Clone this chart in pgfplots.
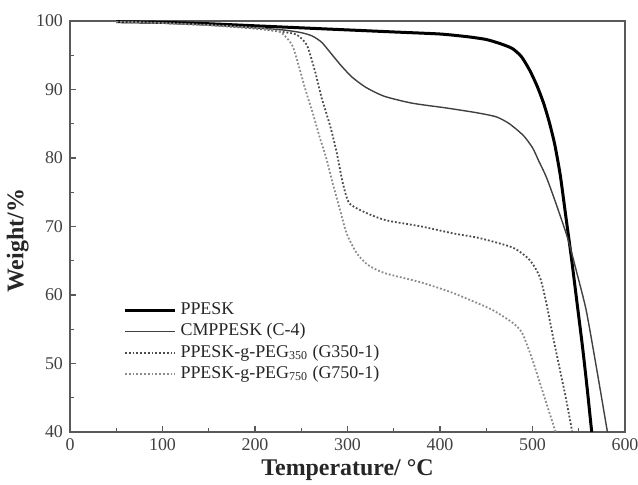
\documentclass[border=0pt]{standalone}
\usepackage{fontspec}
\setmainfont{Liberation Serif}
\usepackage{pgfplots}
\pgfplotsset{compat=1.18}
\begin{document}
\begin{tikzpicture}
\begin{axis}[name=ax, scale only axis, width=277.5bp, height=205.5bp,
  xmin=0, xmax=600, ymin=40, ymax=100,
  xtick={0,100,...,600}, ytick={40,50,...,100},
  minor xtick={50,150,...,550}, minor ytick={45,55,...,95},
  tick align=inside, xtick pos=left, ytick pos=left,
  major tick length=3bp, minor tick length=1.8bp,
  axis line style={black!65, line width=0.7bp},
  every tick/.style={black!65, line width=0.6bp},
  /pgf/number format/assume math mode=true,
  ticklabel style={font=\fontsize{9}{10}\selectfont, text=black!75},
  xlabel={\bfseries Temperature/ °C},
  ylabel={\bfseries Weight/\%},
  label style={font=\fontsize{12}{14}\selectfont, text=black!85},
  xlabel style={at={(axis description cs:0.5,-0.0925)}, anchor=center},
  ylabel style={at={(axis description cs:-0.094,0.465)}, anchor=center},
  legend style={draw=none, fill=none, at={(axis description cs:0.085,0.335)}, anchor=north west, font=\fontsize{9}{10}\selectfont, text=black!85, row sep=-1bp},
  legend cell align=left,
  legend image code/.code={\draw[#1] (0bp,0bp) -- (25bp,0bp);},
]
\addplot[black, line width=1.5bp, smooth, tension=0.4] coordinates {
(50,99.9) (100,99.8) (150,99.6) (200,99.3) (250,99.0) (300,98.7) (350,98.4) (400,98.1) (430,97.7) (450,97.3) (465,96.7) (478,96) (488,94.8) (497,92.8) (505,90.5) (512,88) (518,85.3) (524,82) (530,77.5) (536,71.5) (542,65.5) (548,59) (554,52.5) (559,46.5) (564,40)};
\addlegendentry{PPESK}
\addplot[black!75, line width=0.7bp, smooth, tension=0.4] coordinates {
(50,99.9) (100,99.7) (150,99.4) (200,99.0) (230,98.7) (250,98.3) (262,97.8) (272,96.9) (282,95.3) (293,93.5) (305,91.8) (320,90.3) (340,89) (370,88) (407,87.3) (440,86.6) (461,86) (475,85) (490,83.3) (500,81.5) (507,79.5) (515,77.2) (525,73.5) (538,68.3) (548,63.2) (558,57.8) (569,49.5) (581,40)};
\addlegendentry{CMPPESK (C-4)}
\addplot[black!70, line width=0.9bp, densely dotted, smooth, tension=0.4] coordinates {
(50,99.9) (100,99.7) (150,99.4) (200,98.9) (230,98.4) (245,98) (256,96.5) (265,92.6) (272,88.8) (281,84.8) (288,81) (295,76.3) (302,73.4) (320,72) (342,70.9) (380,70) (414,69) (443,68.3) (479,66.9) (497,65.1) (508,62.6) (515,58.8) (522,54) (529,49.5) (536,45) (543,40)};
\addlegendentry{PPESK-g-PEG\textsubscript{350} (G350-1)}
\addplot[black!45, line width=0.9bp, densely dotted, smooth, tension=0.4] coordinates {
(50,99.9) (100,99.7) (150,99.4) (200,99) (227,98.4) (240,96.5) (247,93.6) (254,90.2) (263,86.3) (270,83) (277,80) (284,76.3) (292,72.4) (299,69) (310,66.1) (322,64.4) (340,63.2) (378,61.9) (410,60.5) (432,59.3) (457,57.8) (479,55.9) (489,54.4) (500,50.5) (515,44.2) (525,40)};
\addlegendentry{PPESK-g-PEG\textsubscript{750} (G750-1)}
\end{axis}
\pgfresetboundingbox
\path ([shift={(-35bp,-26.5bp)}]ax.south west) rectangle ([shift={(6.5bp,10.5bp)}]ax.north east);
\end{tikzpicture}
\end{document}
